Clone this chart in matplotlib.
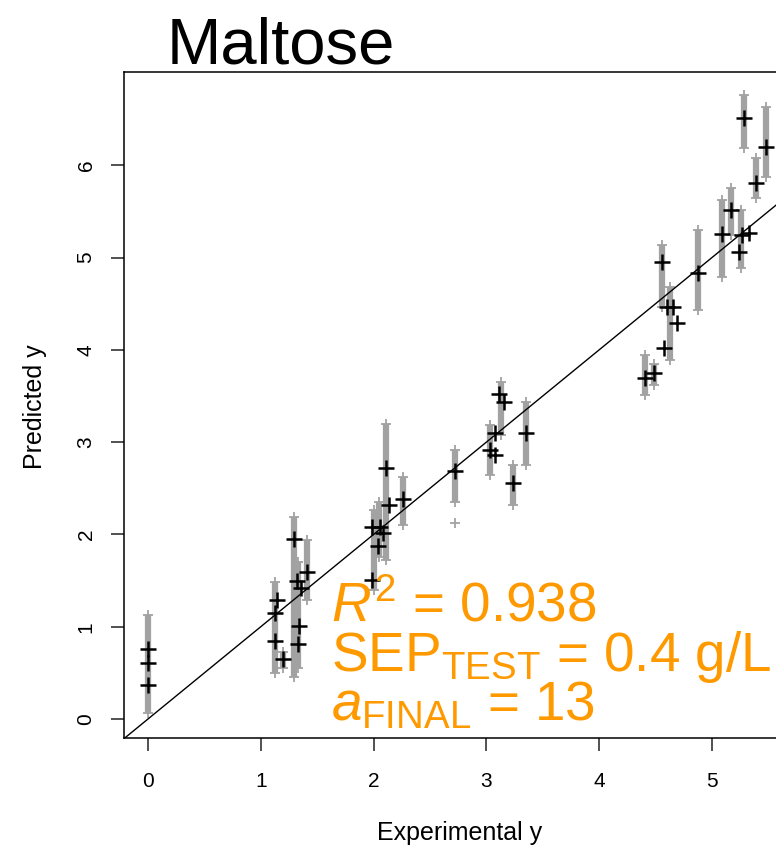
import matplotlib
matplotlib.use("Agg")
import matplotlib.pyplot as plt

plt.rcParams['font.family'] = ['Liberation Sans', 'DejaVu Sans']
plt.rcParams['mathtext.fontset'] = 'custom'
plt.rcParams['mathtext.rm'] = 'Liberation Sans'
plt.rcParams['mathtext.it'] = 'Liberation Sans:italic'

# replicate predictions: spread (min / max) of each grey column
grey_x = [0.00, 1.13, 1.20, 1.29, 1.33, 1.41, 2.00, 2.05, 2.11, 2.26, 2.72, 3.03, 3.13,
          3.24, 3.35, 4.41, 4.49, 4.56, 4.63, 4.88, 5.09, 5.17, 5.26, 5.28, 5.39, 5.48]
grey_lo = [0.07, 0.50, 0.55, 0.45, 0.55, 1.29, 1.40, 1.75, 1.72, 2.10, 2.35, 2.64, 3.08,
           2.32, 2.75, 3.51, 3.62, 4.46, 3.89, 4.43, 4.79, 5.24, 4.89, 6.19, 5.64, 5.87]
grey_hi = [1.13, 1.48, 0.73, 2.19, 1.70, 1.94, 2.26, 2.35, 3.20, 2.62, 2.91, 3.19, 3.65,
           2.75, 3.43, 3.94, 3.85, 5.14, 4.68, 5.30, 5.62, 5.75, 5.51, 6.76, 6.08, 6.63]
outlier_x = [2.72]
outlier_y = [2.12]

# mean predictions (black crosses)
cross_x = [0.00, 0.00, 0.00, 1.14, 1.13, 1.13, 1.20, 1.29, 1.32, 1.36, 1.41, 1.34, 1.33,
           1.99, 1.99, 2.06, 2.08, 2.04, 2.11, 2.14, 2.26, 2.72, 3.11, 3.16, 3.08, 3.03,
           3.08, 3.24, 3.35, 4.41, 4.49, 4.57, 4.60, 4.65, 4.69, 4.56, 4.88, 5.09, 5.24,
           5.27, 5.33, 5.17, 5.39, 5.48, 5.28]
cross_y = [0.76, 0.61, 0.37, 1.29, 1.15, 0.85, 0.65, 1.95, 1.50, 1.42, 1.59, 1.01, 0.81,
           1.51, 2.08, 2.08, 2.01, 1.87, 2.72, 2.32, 2.38, 2.69, 3.52, 3.43, 3.10, 2.91,
           2.86, 2.56, 3.10, 3.69, 3.75, 4.02, 4.46, 4.46, 4.29, 4.95, 4.83, 5.25, 5.06,
           5.24, 5.27, 5.51, 5.81, 6.20, 6.51]

xticks = [0, 1, 2, 3, 4, 5]
yticks = [0, 1, 2, 3, 4, 5, 6]
stats = [r'$R^2$ = 0.938', r'SEP$_{\mathrm{TEST}}$ = 0.4 g/L', r'$a_{\mathrm{FINAL}}$ = 13']

grey = '#a2a2a2'
orange = '#ff9900'

fig = plt.figure(figsize=(7.76, 8.46), dpi=100)
# axes runs past the right edge (the original image is cropped there)
ax = fig.add_axes([124 / 776, 1 - 738 / 846, 676 / 776, 666 / 846])

ax.vlines(grey_x, grey_lo, grey_hi, color=grey, lw=4.5, zorder=2)
ax.plot(grey_x + grey_x, grey_lo + grey_hi, '+', color=grey, ms=6.5, mew=1.3, ls='none', zorder=2)
ax.plot(outlier_x, outlier_y, '+', color=grey, ms=6.5, mew=1.3, ls='none', zorder=2)

ax.axline((0, 0), slope=1, color='black', lw=1, zorder=3)

ax.plot(cross_x, cross_y, '+', color='black', ms=11, mew=1.8, ls='none', zorder=4)

ax.set_xlim(-0.2128, 5.78)
ax.set_ylim(-0.206, 7.01)
ax.set_xticks(xticks)
ax.set_yticks(yticks)
ax.set_yticklabels([str(v) for v in yticks], rotation=90, va='center')
ax.tick_params(direction='out', length=9.5, width=1.1, labelsize=15, color='#222222')
ax.tick_params(axis='x', pad=15)
ax.tick_params(axis='y', pad=11)
for s in ax.spines.values():
    s.set_linewidth(1.1)
ax.spines['right'].set_visible(False)

# fit statistics
for i, s in enumerate(stats):
    ax.text(1.62, 1.06 - 0.535 * i, s, color=orange, fontsize=39.5, va='baseline', ha='left', zorder=5)

fig.text(167 / 776, 1 - 63 / 846, 'Maltose', fontsize=47, va='baseline', ha='left')
fig.text(460 / 776, 1 - 833 / 846, 'Experimental y', fontsize=18, va='center', ha='center')
fig.text(35 / 776, 1 - 407 / 846, 'Predicted y', fontsize=18, va='center', ha='center', rotation=90)

fig.savefig('out.png', dpi=100)
